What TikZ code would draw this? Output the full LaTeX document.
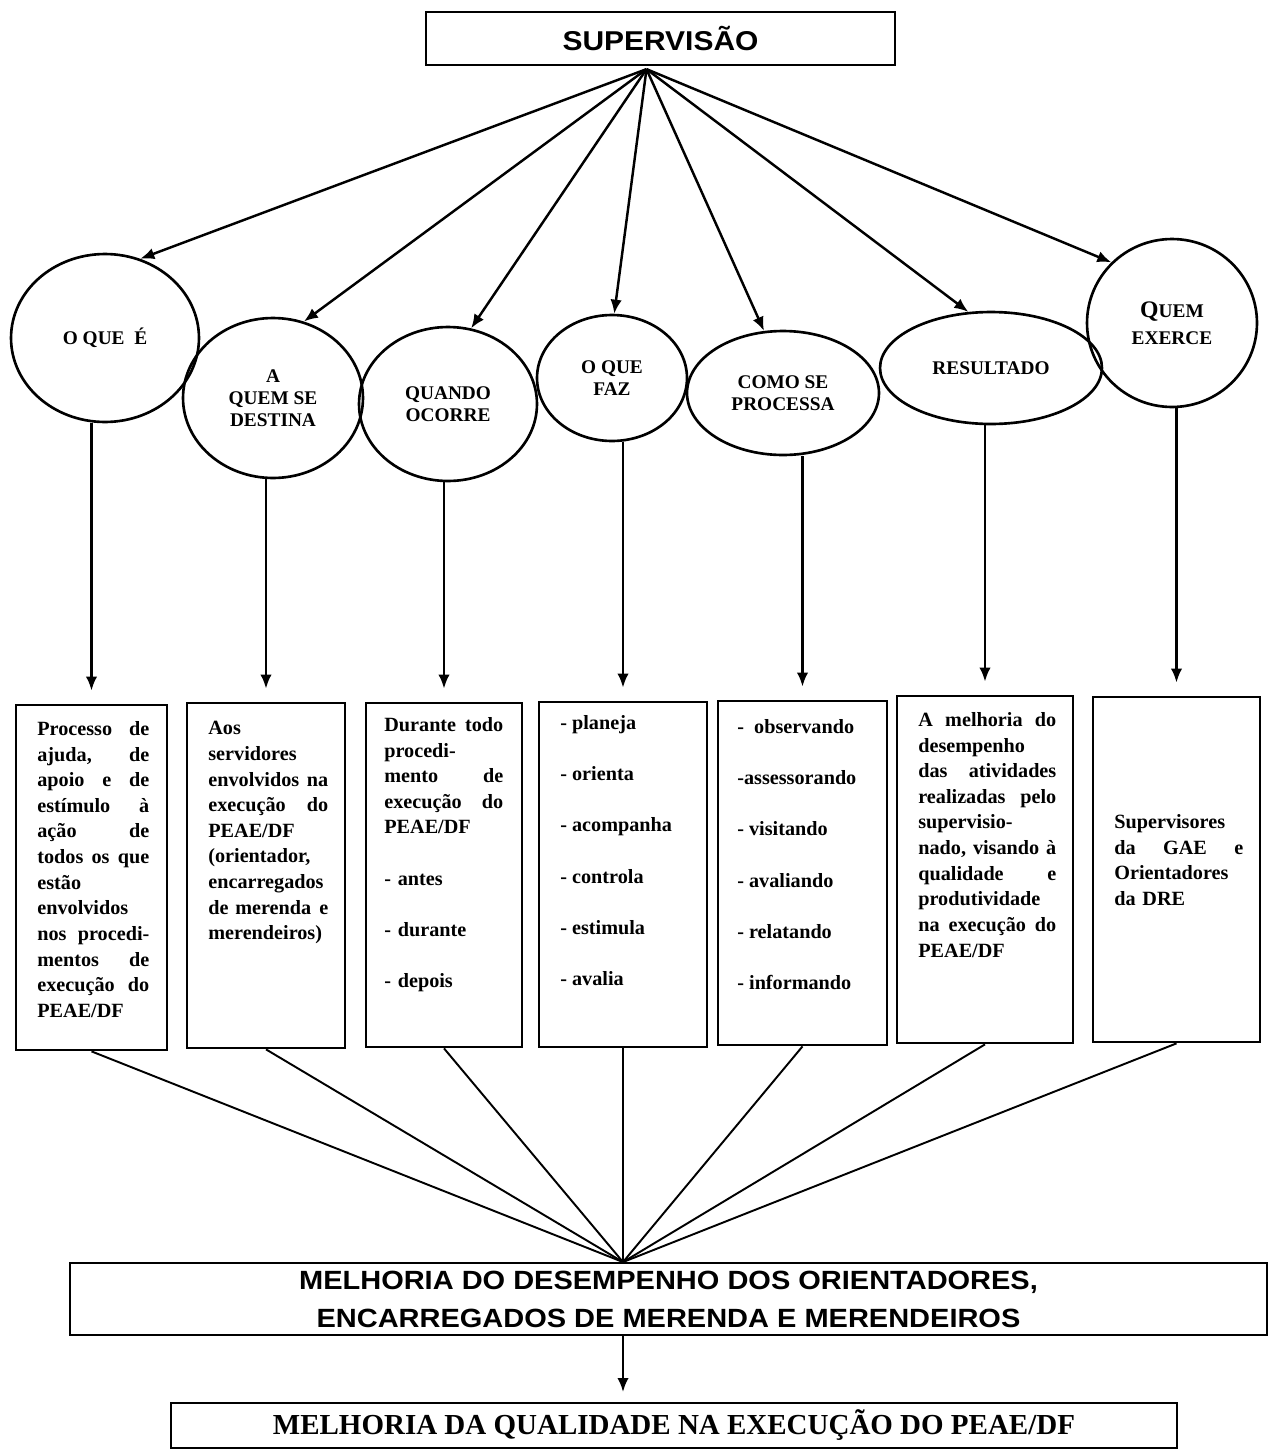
\documentclass[tikz,border=0pt]{standalone}
\usepackage{fontspec}
\setmainfont{Liberation Serif}
\newfontfamily\widesans[FakeStretch=1.1]{Liberation Sans}
\usetikzlibrary{shapes.geometric, arrows.meta}

\begin{document}
\begin{tikzpicture}[x=0.02cm, y=-0.02cm,
            frame/.style={draw, line width=1.6pt, inner sep=0pt},
            topic/.style={draw, ellipse, line width=1.5pt, inner sep=0pt, align=center,
                font=\bfseries\fontsize{11}{12.5}\selectfont},
            boxtext/.style={anchor=north west, inner sep=0pt, align=left,
                font=\bfseries\fontsize{11.5}{14.6}\selectfont},
            arr/.style={-{Latex[length=8pt,width=6.5pt]}, line width=1.4pt},
            link/.style={line width=1.1pt}]
            \fill[white] (0,0) rectangle (1268,1450);
            \useasboundingbox (0,0) rectangle (1268,1450);
            \node[frame, line width=1.3pt, minimum width=9.38cm, minimum height=1.06cm,
                font=\widesans\bfseries\fontsize{15.5}{18}\selectfont] (sup) at (660.5,38.5) {SUPERVISÃO};
            \coordinate (hub) at ([xshift=-0.28cm, yshift=-0.06cm]sup.south);
            \node[topic, minimum width=3.76cm, minimum height=3.36cm] (c1) at (105,338) {O QUE~~É};
            \node[topic, minimum width=3.6cm, minimum height=3.2cm] (c2) at (273,398) {A\\QUEM SE\\DESTINA};
            \node[topic, minimum width=3.56cm, minimum height=3.08cm] (c3) at (448,404) {QUANDO\\OCORRE};
            \node[topic, minimum width=3.0cm, minimum height=2.52cm] (c4) at (612,378) {O QUE\\FAZ};
            \node[topic, minimum width=3.84cm, minimum height=2.48cm] (c5) at (783,393) {COMO SE\\PROCESSA};
            \node[topic, minimum width=4.44cm, minimum height=2.24cm] (c6) at (991,368) {RESULTADO};
            \node[topic, minimum width=3.4cm, minimum height=3.36cm] (c7) at (1172,323)
                {{\fontsize{13.5}{15}\selectfont Q}UEM\\[3pt]EXERCE};
            \foreach \c/\a in {c1/66, c2/68, c3/73, c4/88, c5/107, c6/112, c7/135}
                \draw[arr] (hub) -- (\c.\a);
            \node[frame, minimum width=3.02cm, minimum height=6.9cm] (b1) at (91.5,877.5) {};
            \node[frame, minimum width=3.16cm, minimum height=6.9cm] (b2) at (266,875.5) {};
            \node[frame, minimum width=3.12cm, minimum height=6.88cm] (b3) at (444,875) {};
            \node[frame, minimum width=3.36cm, minimum height=6.9cm] (b4) at (623,874.5) {};
            \node[frame, minimum width=3.38cm, minimum height=6.88cm] (b5) at (802.5,873) {};
            \node[frame, minimum width=3.52cm, minimum height=6.94cm] (b6) at (985,869.5) {};
            \node[frame, minimum width=3.34cm, minimum height=6.9cm] (b7) at (1176.5,869.5) {};
            \foreach \i in {1,...,7}
                \draw[arr, shorten >=0.26cm] (c\i.south -| b\i.north) -- (b\i.north);
            \node[boxtext, text width=2.24cm] (t1) at (37,721) {Processo\hfill de\\ ajuda,\hfill de\\
                apoio\hfill e\hfill de\\ estímulo\hfill à\\ ação\hfill de\\ todos\hfill os\hfill que\\
                estão\\ envolvidos\\ nos\hfill procedi-\\ mentos\hfill de\\ execução\hfill do\\ PEAE/DF};
            \node[boxtext, text width=2.4cm] (t2) at (208,721) {Aos\\ servidores\\ envolvidos\hfill na\\
                execução\hfill do\\ PEAE/DF\\ (orientador,\\ encarregados\\ de merenda\hfill e\\ merendeiros)};
            \node[boxtext, text width=2.38cm] (t3) at (384,717) {Durante\hfill todo\\ procedi-\\
                mento\hfill de\\ execução\hfill do\\ PEAE/DF\\[\baselineskip] - antes\\[\baselineskip]
                - durante\\[\baselineskip] - depois};
            \node[boxtext] (t4) at (560,715) {- planeja\\[\baselineskip] - orienta\\[\baselineskip]
                - acompanha\\[\baselineskip] - controla\\[\baselineskip] - estimula\\[\baselineskip] - avalia};
            \node[boxtext] (t5) at (737,719) {-~~observando\\[\baselineskip] -assessorando\\[\baselineskip]
                - visitando\\[\baselineskip] - avaliando\\[\baselineskip] - relatando\\[\baselineskip] - informando};
            \node[boxtext, text width=2.76cm] (t6) at (918,712) {A\hfill melhoria\hfill do\\ desempenho\\
                das\hfill atividades\\ realizadas\hfill pelo\\ supervisio-\\ nado,\hfill visando\hfill à\\
                qualidade\hfill e\\ produtividade\\ na\hfill execução\hfill do\\ PEAE/DF};
            \node[boxtext, text width=2.58cm] (t7) at (1114,814) {Supervisores\\ da\hfill GAE\hfill e\\
                Orientadores\\ da DRE};
            \node[draw, line width=1.1pt, minimum width=23.94cm, minimum height=1.44cm, align=center,
                font=\widesans\bfseries\fontsize{15}{21.6}\selectfont] (goal) at (668.5,1299)
                {MELHORIA DO DESEMPENHO DOS ORIENTADORES,\\ENCARREGADOS DE MERENDA E MERENDEIROS};
            \coordinate (meet) at (goal.north -| b4.south);
            \foreach \i in {1,...,7}
                \draw[link] (b\i.south) -- (meet);
            \node[draw, line width=1.1pt, minimum width=20.12cm, minimum height=0.9cm,
                font=\bfseries\fontsize{16.5}{18}\selectfont] (final) at (674,1425.5)
                {MELHORIA DA QUALIDADE NA EXECUÇÃO DO PEAE/DF};
            \draw[arr, shorten >=0.2cm] (goal.south -| meet) -- (final.north -| meet);
        \end{tikzpicture}
\end{document}
